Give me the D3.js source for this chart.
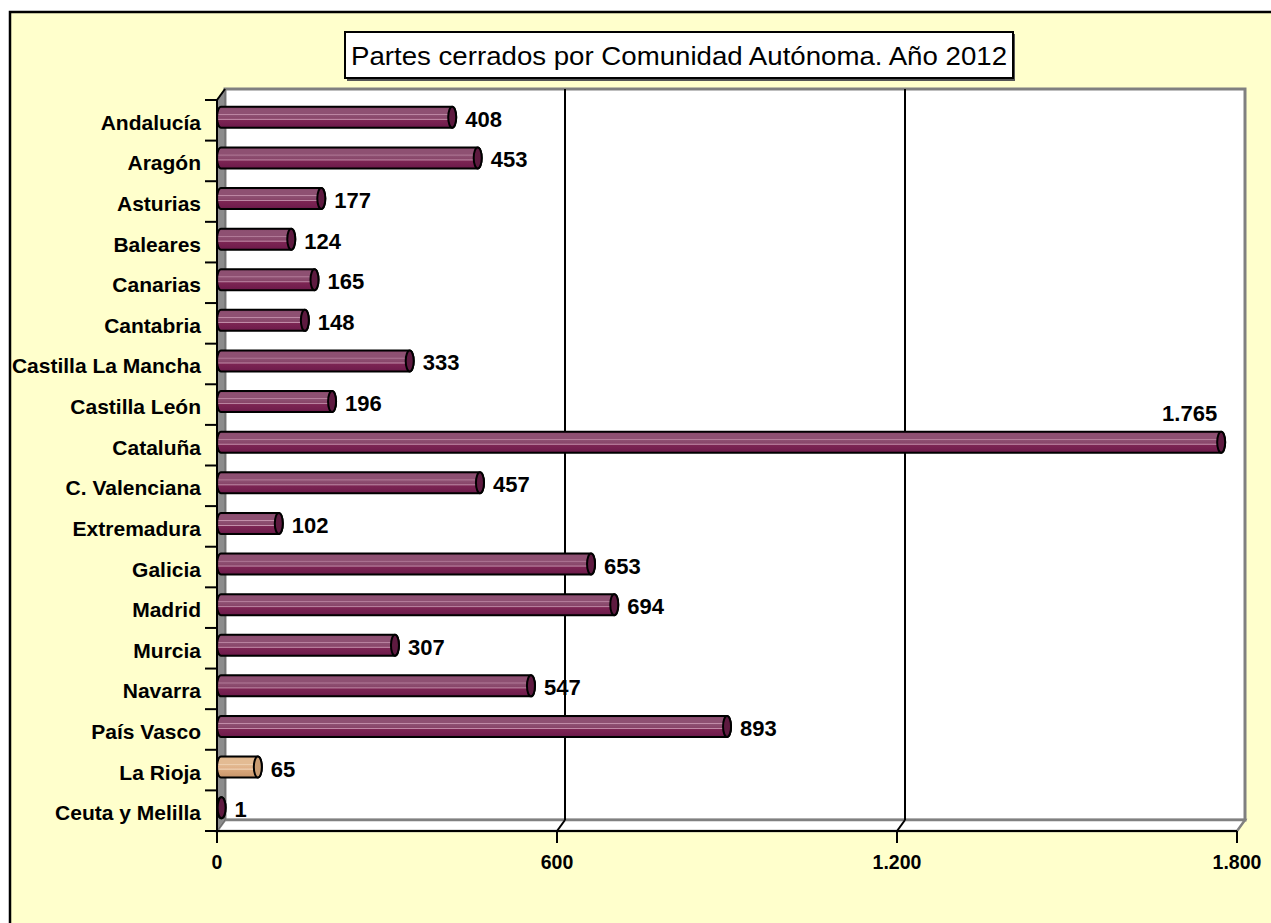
<!DOCTYPE html>
<html><head><meta charset="utf-8">
<script src="https://cdn.jsdelivr.net/npm/d3@7"></script>
<style>body{margin:0;background:#fff}svg{display:block}text{font-family:"Liberation Sans",Arial,Helvetica,sans-serif}</style>
</head><body>
<svg id="c" width="1271" height="923"></svg>
<script>
const categories = ["Andalucía","Aragón","Asturias","Baleares","Canarias","Cantabria","Castilla La Mancha","Castilla León","Cataluña","C. Valenciana","Extremadura","Galicia","Madrid","Murcia","Navarra","País Vasco","La Rioja","Ceuta y Melilla"];
const values = [408,453,177,124,165,148,333,196,1765,457,102,653,694,307,547,893,65,1];
const tickValues = [0,600,1200,1800];
const tickLabels = ["0","600","1.200","1.800"];
const title = "Partes cerrados por Comunidad Autónoma. Año 2012";
const highlight = "La Rioja";

const svg = d3.select("#c");
const fmt = v => d3.format(",")(v).replace(/,/g,".");
const DX = 8, DY = -11;
const x = d3.scaleLinear().domain([0,1800]).range([217,1237]);
const y = d3.scaleBand().domain(categories).range([100,831]).paddingInner(0).paddingOuter(0);

// defs
const defs = svg.append("defs");
function grad(id, stops){
  const g = defs.append("linearGradient").attr("id",id).attr("x1",0).attr("y1",0).attr("x2",0).attr("y2",1);
  stops.forEach(s=>g.append("stop").attr("offset",s[0]).attr("stop-color",s[1]));
}
grad("gm",[[0,"#7a3a5e"],[0.1,"#8e5072"],[0.33,"#8e5072"],[0.36,"#c48fab"],[0.4,"#8e5072"],[0.55,"#884569"],[0.6,"#c48fab"],[0.64,"#7c2553"],[0.9,"#711d4d"],[1,"#641843"]]);
grad("gt",[[0,"#c99a70"],[0.1,"#e3bb93"],[0.33,"#e3bb93"],[0.36,"#f5dcc2"],[0.4,"#e3bb93"],[0.55,"#dfb088"],[0.6,"#f5dcc2"],[0.64,"#d9a77b"],[1,"#c8956a"]]);

// frame
svg.append("rect").attr("x",10).attr("y",12).attr("width",1300).attr("height",950)
  .attr("fill","#ffffcc").attr("stroke","#000").attr("stroke-width",2.5);

// back wall
const x0 = x(0), x1 = x(1800), yT = y.range()[0], yB = y.range()[1];
svg.append("rect").attr("x",x0+DX).attr("y",yT+DY).attr("width",x1-x0).attr("height",yB-yT)
  .attr("fill","#fff").attr("stroke","#808080").attr("stroke-width",3);
// floor
svg.append("path").attr("d",`M${x0},${yB}L${x0+DX},${yB+DY}L${x1+DX},${yB+DY}L${x1},${yB}Z`)
  .attr("fill","#fff").attr("stroke","#808080").attr("stroke-width",2.5);
// gridlines
[600,1200].forEach(v=>{
  svg.append("line").attr("x1",x(v)+DX).attr("x2",x(v)+DX).attr("y1",yT+DY).attr("y2",yB+DY).attr("stroke","#000").attr("stroke-width",2);
  svg.append("line").attr("x1",x(v)).attr("x2",x(v)+DX).attr("y1",yB).attr("y2",yB+DY).attr("stroke","#000").attr("stroke-width",2);
});
// left wall
svg.append("path").attr("d",`M${x0},${yT}L${x0+DX},${yT+DY}L${x0+DX},${yB+DY}L${x0},${yB}Z`)
  .attr("fill","#8c8c8c").attr("stroke","#6a6a6a").attr("stroke-width",1);
svg.append("line").attr("x1",x0).attr("x2",x0+DX).attr("y1",yT).attr("y2",yT+DY).attr("stroke","#000").attr("stroke-width",2);

// bars
const bh = 21, off = 3, cx = 4;
const bars = svg.append("g");
categories.forEach((c,i)=>{
  const v = values[i];
  const cy = y(c)+y.bandwidth()/2 - off;
  const xs = x0 + cx, xe = x(v) + cx;
  const isH = c===highlight;
  const g = bars.append("g");
  g.append("path").attr("d",`M${xs},${cy-bh/2}L${xe},${cy-bh/2}A4,${bh/2} 0 0 1 ${xe},${cy+bh/2}L${xs},${cy+bh/2}A4,${bh/2} 0 0 1 ${xs},${cy-bh/2}Z`)
    .attr("fill",`url(#${isH?"gt":"gm"})`).attr("stroke","#000").attr("stroke-width",2);
  g.append("ellipse").attr("cx",xe).attr("cy",cy).attr("rx",4).attr("ry",bh/2)
    .attr("fill",isH?"#c99c72":"#5e1a40").attr("stroke","#000").attr("stroke-width",2);
  // value label
  const lab = svg.append("text").attr("font-size",22).attr("font-weight","bold").attr("fill","#000").text(fmt(v));
  if (v > 1500) {
    lab.attr("x",xe-4).attr("y",cy-bh/2-18).attr("text-anchor","end").attr("dominant-baseline","central");
  } else {
    lab.attr("x",xe+13).attr("y",cy+2).attr("dominant-baseline","central");
  }
});

// axes (front)
svg.append("line").attr("x1",x0).attr("x2",x0).attr("y1",yT).attr("y2",yB+12).attr("stroke","#000").attr("stroke-width",2);
svg.append("line").attr("x1",x0-12).attr("x2",x1).attr("y1",yB).attr("y2",yB).attr("stroke","#000").attr("stroke-width",2);
// category ticks at band boundaries
categories.forEach(c=>{
  svg.append("line").attr("x1",x0-12).attr("x2",x0).attr("y1",y(c)).attr("y2",y(c)).attr("stroke","#000").attr("stroke-width",2);
});
// category labels
svg.append("g").selectAll("text").data(categories).join("text")
  .attr("x",201).attr("y",d=>y(d)+y.bandwidth()/2+2).attr("text-anchor","end").attr("dominant-baseline","central")
  .attr("font-size",21).attr("font-weight","bold").text(d=>d);
// value ticks
tickValues.forEach((v,i)=>{
  svg.append("line").attr("x1",x(v)).attr("x2",x(v)).attr("y1",yB).attr("y2",yB+12).attr("stroke","#000").attr("stroke-width",2);
  svg.append("text").attr("x",x(v)).attr("y",yB+31).attr("text-anchor","middle").attr("dominant-baseline","central")
    .attr("font-size",19.5).attr("font-weight","bold").text(tickLabels[i]);
});

// title
svg.append("rect").attr("x",347).attr("y",34).attr("width",668).attr("height",47).attr("fill","#555");
svg.append("rect").attr("x",345).attr("y",32).attr("width",668).attr("height",46).attr("fill","#fff").attr("stroke","#000").attr("stroke-width",2);
svg.append("text").attr("x",679).attr("y",56).attr("text-anchor","middle").attr("dominant-baseline","central")
  .attr("font-size",25).attr("textLength",656).attr("lengthAdjust","spacingAndGlyphs").text(title);
</script>
</body></html>
